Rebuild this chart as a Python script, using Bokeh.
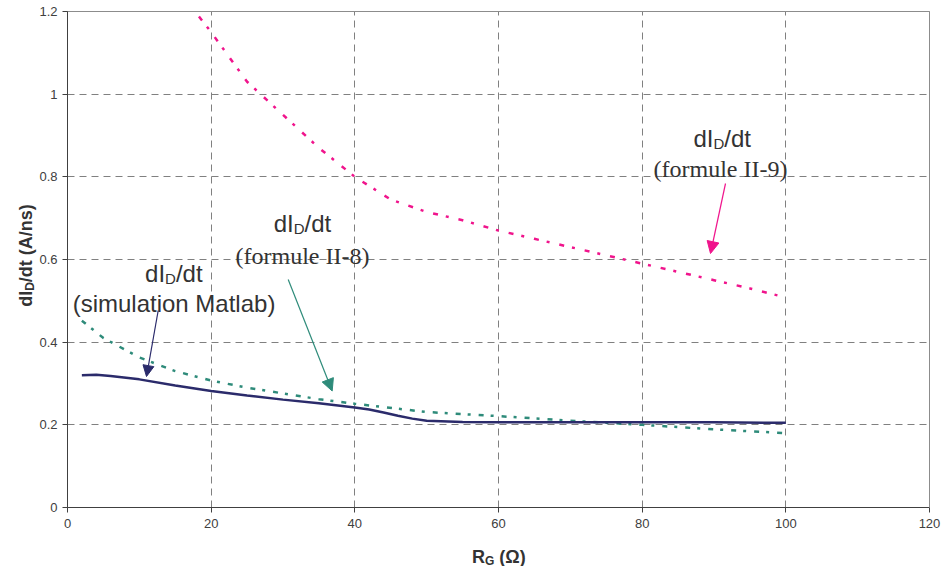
import math
from bokeh.plotting import figure
from bokeh.models import (Range1d, FixedTicker, CustomJSTickFormatter, Label,
                          Arrow, NormalHead, LinearAxis, Grid)
from bokeh.embed import file_html
from bokeh.resources import INLINE

# ---------------- data ----------------
rg_matlab = [2, 4, 6, 10, 15, 20, 25, 30, 35, 40, 42, 44, 46, 48, 50, 55, 60, 70, 80, 90, 100]
did_matlab = [0.320, 0.321, 0.318, 0.310, 0.295, 0.282, 0.271, 0.261, 0.252, 0.242,
              0.237, 0.230, 0.222, 0.215, 0.210, 0.207, 0.206, 0.206, 0.206, 0.206, 0.205]

rg_f8 = [2, 5, 10, 15, 20, 25, 30, 35, 40, 50, 60, 70, 80, 90, 100]
did_f8 = [0.452, 0.410, 0.363, 0.330, 0.307, 0.290, 0.276, 0.262, 0.251, 0.231,
          0.221, 0.210, 0.200, 0.189, 0.180]

rg_f9 = [18.3, 20, 25, 30, 35, 40, 45, 50, 55, 60, 65, 70, 75, 80, 85, 90, 95, 100]
did_f9 = [1.188, 1.150, 1.030, 0.950, 0.870, 0.800, 0.745, 0.715, 0.695, 0.670,
          0.650, 0.630, 0.610, 0.590, 0.570, 0.550, 0.530, 0.508]

x_ticks = [0, 20, 40, 60, 80, 100, 120]
y_ticks = [0, 0.2, 0.4, 0.6, 0.8, 1.0, 1.2]

NAVY = "#2B2B6B"
TEAL = "#2E8B7A"
PINK = "#F0148C"
TXT = "#333333"

# ---------------- geometry (canvas pixels) ----------------
W, H = 943, 566
PX0, PX1 = 67, 929      # x = 0 .. 120
PY0, PY1 = 507, 11      # y = 0 .. 1.2
XMAX, YMAX = 120.0, 1.2
sx = XMAX / (PX1 - PX0)
sy = YMAX / (PY0 - PY1)
x_start, x_end = -PX0 * sx, (W - PX0) * sx
y_start, y_end = -(H - PY0) * sy, PY0 * sy

def dx(px):
    return (px - PX0) * sx
def dy(py):
    return (PY0 - py) * sy

p = figure(width=W, height=H, x_range=Range1d(x_start, x_end),
           y_range=Range1d(y_start, y_end), output_backend="svg",
           toolbar_location=None, min_border=0)
p.background_fill_color = "white"
p.border_fill_color = "white"
p.outline_line_color = None

xa, ya = p.xaxis[0], p.yaxis[0]
xa.fixed_location = 0
ya.fixed_location = 0
xa.bounds = (0, XMAX)
ya.bounds = (0, YMAX)
xa.ticker = FixedTicker(ticks=x_ticks)
ya.ticker = FixedTicker(ticks=y_ticks)
ya.formatter = CustomJSTickFormatter(code="return String(Math.round(tick*10)/10);")
for ax in (xa, ya):
    ax.axis_line_color = "#404040"
    ax.axis_line_width = 1
    ax.major_tick_line_color = "#404040"
    ax.major_tick_out = 5
    ax.major_tick_in = 0
    ax.minor_tick_line_color = None
    ax.major_label_text_font = "Liberation Sans"
    ax.major_label_text_font_size = "13px"
    ax.major_label_text_color = "#404040"
    ax.axis_label = None
xa.major_label_standoff = 6
ya.major_label_standoff = 5

# top and right border lines of the plot area
top_ax = LinearAxis(fixed_location=YMAX, bounds=(0, XMAX), ticker=FixedTicker(ticks=[]),
                    axis_line_color="#8C8C8C", major_tick_line_color=None,
                    minor_tick_line_color=None, major_label_text_font_size="0px")
right_ax = LinearAxis(fixed_location=XMAX, bounds=(0, YMAX), ticker=FixedTicker(ticks=[]),
                      axis_line_color="#8C8C8C", major_tick_line_color=None,
                      minor_tick_line_color=None, major_label_text_font_size="0px")
p.add_layout(top_ax, "above")
p.add_layout(right_ax, "right")

has_cross = "cross_bounds" in Grid.properties()
if has_cross:
    p.xgrid[0].cross_bounds = (0, YMAX)
    p.ygrid[0].cross_bounds = (0, XMAX)
    for g in (p.xgrid[0], p.ygrid[0]):
        g.grid_line_color = "#808080"
        g.grid_line_width = 1
        g.grid_line_dash = "7 5"
else:
    p.xgrid.visible = False
    p.ygrid.visible = False
    gx = x_ticks[1:-1]
    gy = y_ticks[1:-1]
    p.segment(x0=gx, y0=[0] * len(gx), x1=gx, y1=[YMAX] * len(gx),
              line_color="#808080", line_width=1, line_dash="7 5")
    p.segment(x0=[0] * len(gy), y0=gy, x1=[XMAX] * len(gy), y1=gy,
              line_color="#808080", line_width=1, line_dash="7 5")

# ---------------- series ----------------
p.line(rg_f9, did_f9, line_color=PINK, line_width=2.5, line_dash="5 8 3 10")
p.line(rg_f8, did_f8, line_color=TEAL, line_width=2.5, line_dash="5 7 3 8")
p.line(rg_matlab, did_matlab, line_color=NAVY, line_width=2.5)

def lab(x, y, text, size, font="Liberation Sans", style="normal", align="left",
        angle=0.0, color=TXT):
    p.add_layout(Label(x=x, y=y, text=text, text_font=font, text_font_size=size,
                       text_font_style=style, text_align=align,
                       text_baseline="alphabetic", angle=angle, text_color=color))

# composite "dI_D/dt" centred at canvas x cx, baseline canvas y by
def didt(cx, by, size=24, sub=15):
    w_di = 0.834 * size
    w_d = 0.722 * sub
    w_rest = 1.112 * size
    left = cx - (w_di + w_d + w_rest) / 2.0
    lab(dx(left), dy(by), "dI", f"{size}px")
    lab(dx(left + w_di), dy(by + 5), "D", f"{sub}px")
    lab(dx(left + w_di + w_d), dy(by), "/dt", f"{size}px")

# annotation 1: simulation Matlab
didt(173.3, 273)
lab(dx(173.5), dy(303), "(simulation Matlab)", "24px", align="center")
p.add_layout(Arrow(end=NormalHead(size=11, fill_color=NAVY, line_color=NAVY),
                   x_start=dx(157.7), y_start=dy(310), x_end=dx(146), y_end=dy(376),
                   line_color=NAVY, line_width=1.2))

# annotation 2: formule II-8
didt(302, 223)
lab(dx(302), dy(255), "(formule II-8)", "24px", font="Liberation Serif", align="center")
p.add_layout(Arrow(end=NormalHead(size=12, fill_color=TEAL, line_color=TEAL),
                   x_start=dx(287.7), y_start=dy(279), x_end=dx(331.7), y_end=dy(390.5),
                   line_color=TEAL, line_width=1.2))

# annotation 3: formule II-9
didt(721.7, 138)
lab(dx(720), dy(168), "(formule II-9)", "24px", font="Liberation Serif", align="center")
p.add_layout(Arrow(end=NormalHead(size=12, fill_color=PINK, line_color=PINK),
                   x_start=dx(725), y_start=dy(183), x_end=dx(710), y_end=dy(253),
                   line_color=PINK, line_width=1.2))

# ---------------- axis titles ----------------
ts, tsub = 18, 12
w1 = 0.889 * ts
w2 = 0.722 * tsub
w3 = 4.334 * ts
start = 255 + (w1 + w2 + w3) / 2.0
bx = 25
lab(dx(bx), dy(start), "dI", f"{ts}px", style="bold", angle=math.pi / 2)
lab(dx(bx + 4), dy(start - w1), "D", f"{tsub}px", style="bold", angle=math.pi / 2)
lab(dx(bx), dy(start - w1 - w2), "/dt\u00a0(A/ns)", f"{ts}px", style="bold", angle=math.pi / 2)

r1 = 0.722 * ts
r2 = 0.778 * tsub
r3 = 1.712 * ts
xl = 498 - (r1 + r2 + r3) / 2.0
lab(dx(xl), dy(556), "R", f"{ts}px", style="bold")
lab(dx(xl + r1), dy(560), "G", f"{tsub}px", style="bold")
lab(dx(xl + r1 + r2), dy(556), "\u00a0(\u03a9)", f"{ts}px", style="bold")

open("out.html", "w").write(file_html(p, INLINE))
